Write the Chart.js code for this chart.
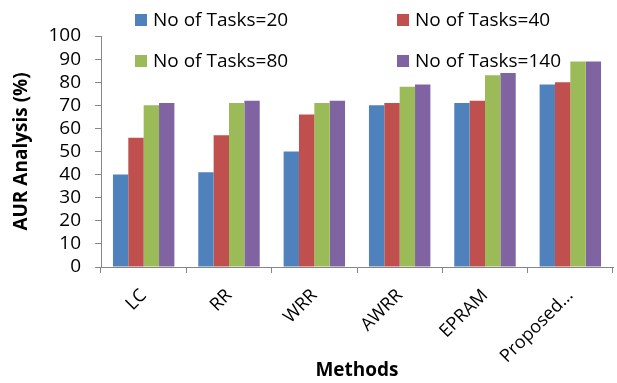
<!DOCTYPE html>
<html>
<head>
<meta charset="utf-8">
<script src="https://cdn.jsdelivr.net/npm/chart.js@4"></script>
<style>
  html, body { margin: 0; padding: 0; background: #fff; }
  #wrap { width: 617px; height: 383px; }
</style>
</head>
<body>
<div id="wrap"><canvas id="c" width="617" height="383"></canvas></div>
<script>
const methods = ['LC', 'RR', 'WRR', 'AWRR', 'EPRAM', 'Proposed...'];
const seriesNames = ['No of Tasks=20', 'No of Tasks=40', 'No of Tasks=80', 'No of Tasks=140'];
const tasks20 = [40, 41, 50, 70, 71, 79];
const tasks40 = [56, 57, 66, 71, 72, 80];
const tasks80 = [70, 71, 71, 78, 83, 89];
const tasks140 = [71, 72, 72, 79, 84, 89];
const colors = ['#4F81BD', '#C0504D', '#9BBB59', '#8064A2'];

const FONT = '"Open Sans", "Liberation Sans", sans-serif';

// Two-column legend laid over the top of the plot area
const legendPlugin = {
  id: 'gridLegend',
  afterDraw(chart) {
    const ctx = chart.ctx;
    const spots = [[135, 20], [397, 20], [135, 61], [397, 61]];
    ctx.save();
    ctx.font = '19px ' + FONT;
    ctx.textBaseline = 'middle';
    chart.data.datasets.forEach((ds, i) => {
      const [x, y] = spots[i];
      ctx.fillStyle = ds.backgroundColor;
      ctx.fillRect(x, y - 6, 12, 12);
      ctx.fillStyle = '#000';
      ctx.fillText(ds.label, x + 18, y + 1);
    });
    ctx.restore();
  }
};

new Chart(document.getElementById('c'), {
  type: 'bar',
  data: {
    labels: methods,
    datasets: [tasks20, tasks40, tasks80, tasks140].map((vals, i) => ({
      label: seriesNames[i],
      data: vals,
      backgroundColor: colors[i],
      borderWidth: 0,
      categoryPercentage: 0.72,
      barPercentage: 1
    }))
  },
  options: {
    responsive: false,
    animation: false,
    layout: { padding: { top: 36, right: 4, left: 10, bottom: 0 } },
    plugins: { legend: { display: false }, tooltip: { enabled: false } },
    scales: {
      x: {
        grid: { drawOnChartArea: false, drawTicks: true, tickLength: 6, color: '#868686' },
        border: { color: '#868686', width: 1 },
        ticks: { color: '#000', font: { family: FONT, size: 18 }, minRotation: 45, maxRotation: 45, padding: 12 },
        title: { display: true, text: 'Methods', color: '#000', font: { family: FONT, size: 19, weight: 'bold' }, padding: { top: 0, bottom: 1 } },
        afterFit(scale) { scale.height = 116; }
      },
      y: {
        min: 0, max: 100,
        grid: { drawOnChartArea: false, drawTicks: true, tickLength: 6, color: '#868686' },
        border: { color: '#868686', width: 1 },
        ticks: { stepSize: 10, autoSkip: false, color: '#000', font: { family: FONT, size: 19 }, padding: 14 },
        title: { display: true, text: 'AUR Analysis (%)', color: '#000', font: { family: FONT, size: 19, weight: 'bold' }, padding: { top: 0, bottom: 4 } },
        afterFit(scale) { scale.width = 91; }
      }
    }
  },
  plugins: [legendPlugin]
});
</script>
</body>
</html>
